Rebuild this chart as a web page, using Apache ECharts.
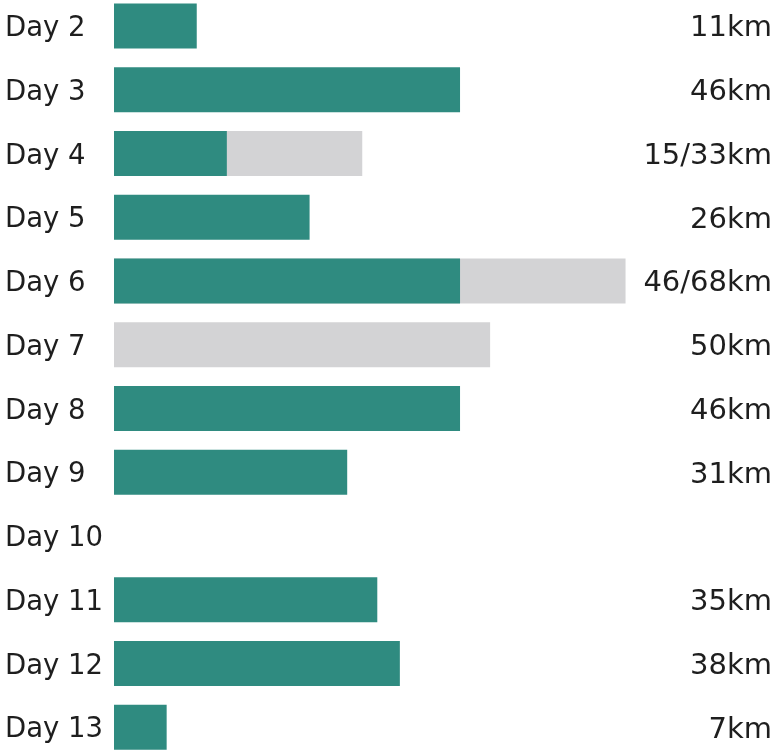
<!DOCTYPE html>
<html><head><meta charset="utf-8">
<script src="https://cdn.jsdelivr.net/npm/echarts@6/dist/echarts.min.js"></script>
<style>html,body{margin:0;padding:0;background:#fff;overflow:hidden}#c{width:775px;height:765px;margin-top:-6px}</style>
</head><body><div id="c"></div>
<script>
const days = ['Day 2','Day 3','Day 4','Day 5','Day 6','Day 7','Day 8','Day 9','Day 10','Day 11','Day 12','Day 13'];
const cycled = [11,46,15,26,46,null,46,31,null,35,38,7];
const planned = [null,null,33,null,68,50,null,null,null,null,null,null];
const distanceLabels = ['11km','46km','15/33km','26km','46/68km','50km','46km','31km','','35km','38km','7km'];

const font = 'DejaVu Sans';
const chart = echarts.init(document.getElementById('c'));
chart.setOption({
  animation:false,
  grid:{left:114, right:1, top:0, bottom:0, containLabel:false},
  xAxis:{type:'value', min:0, max:87.47, show:false},
  yAxis:[
    {type:'category', data:days, inverse:true, axisLine:{show:false}, axisTick:{show:false},
     axisLabel:{align:'left', margin:109, color:'#1e1e1e', fontSize:27.5, fontFamily:font, verticalAlign:'top', lineHeight:6}},
    {type:'category', data:distanceLabels, inverse:true, position:'right', axisLine:{show:false}, axisTick:{show:false},
     axisLabel:{inside:true, margin:0, align:'right', color:'#1e1e1e', fontSize:29, fontFamily:font, verticalAlign:'top', lineHeight:6}}
  ],
  series:[
    {type:'bar', data:planned, barWidth:45, barGap:'-100%', itemStyle:{color:'#d3d3d5'}, silent:true},
    {type:'bar', data:cycled, barWidth:45, barGap:'-100%', itemStyle:{color:'#2f8b80'}, silent:true}
  ]
});
</script></body></html>
